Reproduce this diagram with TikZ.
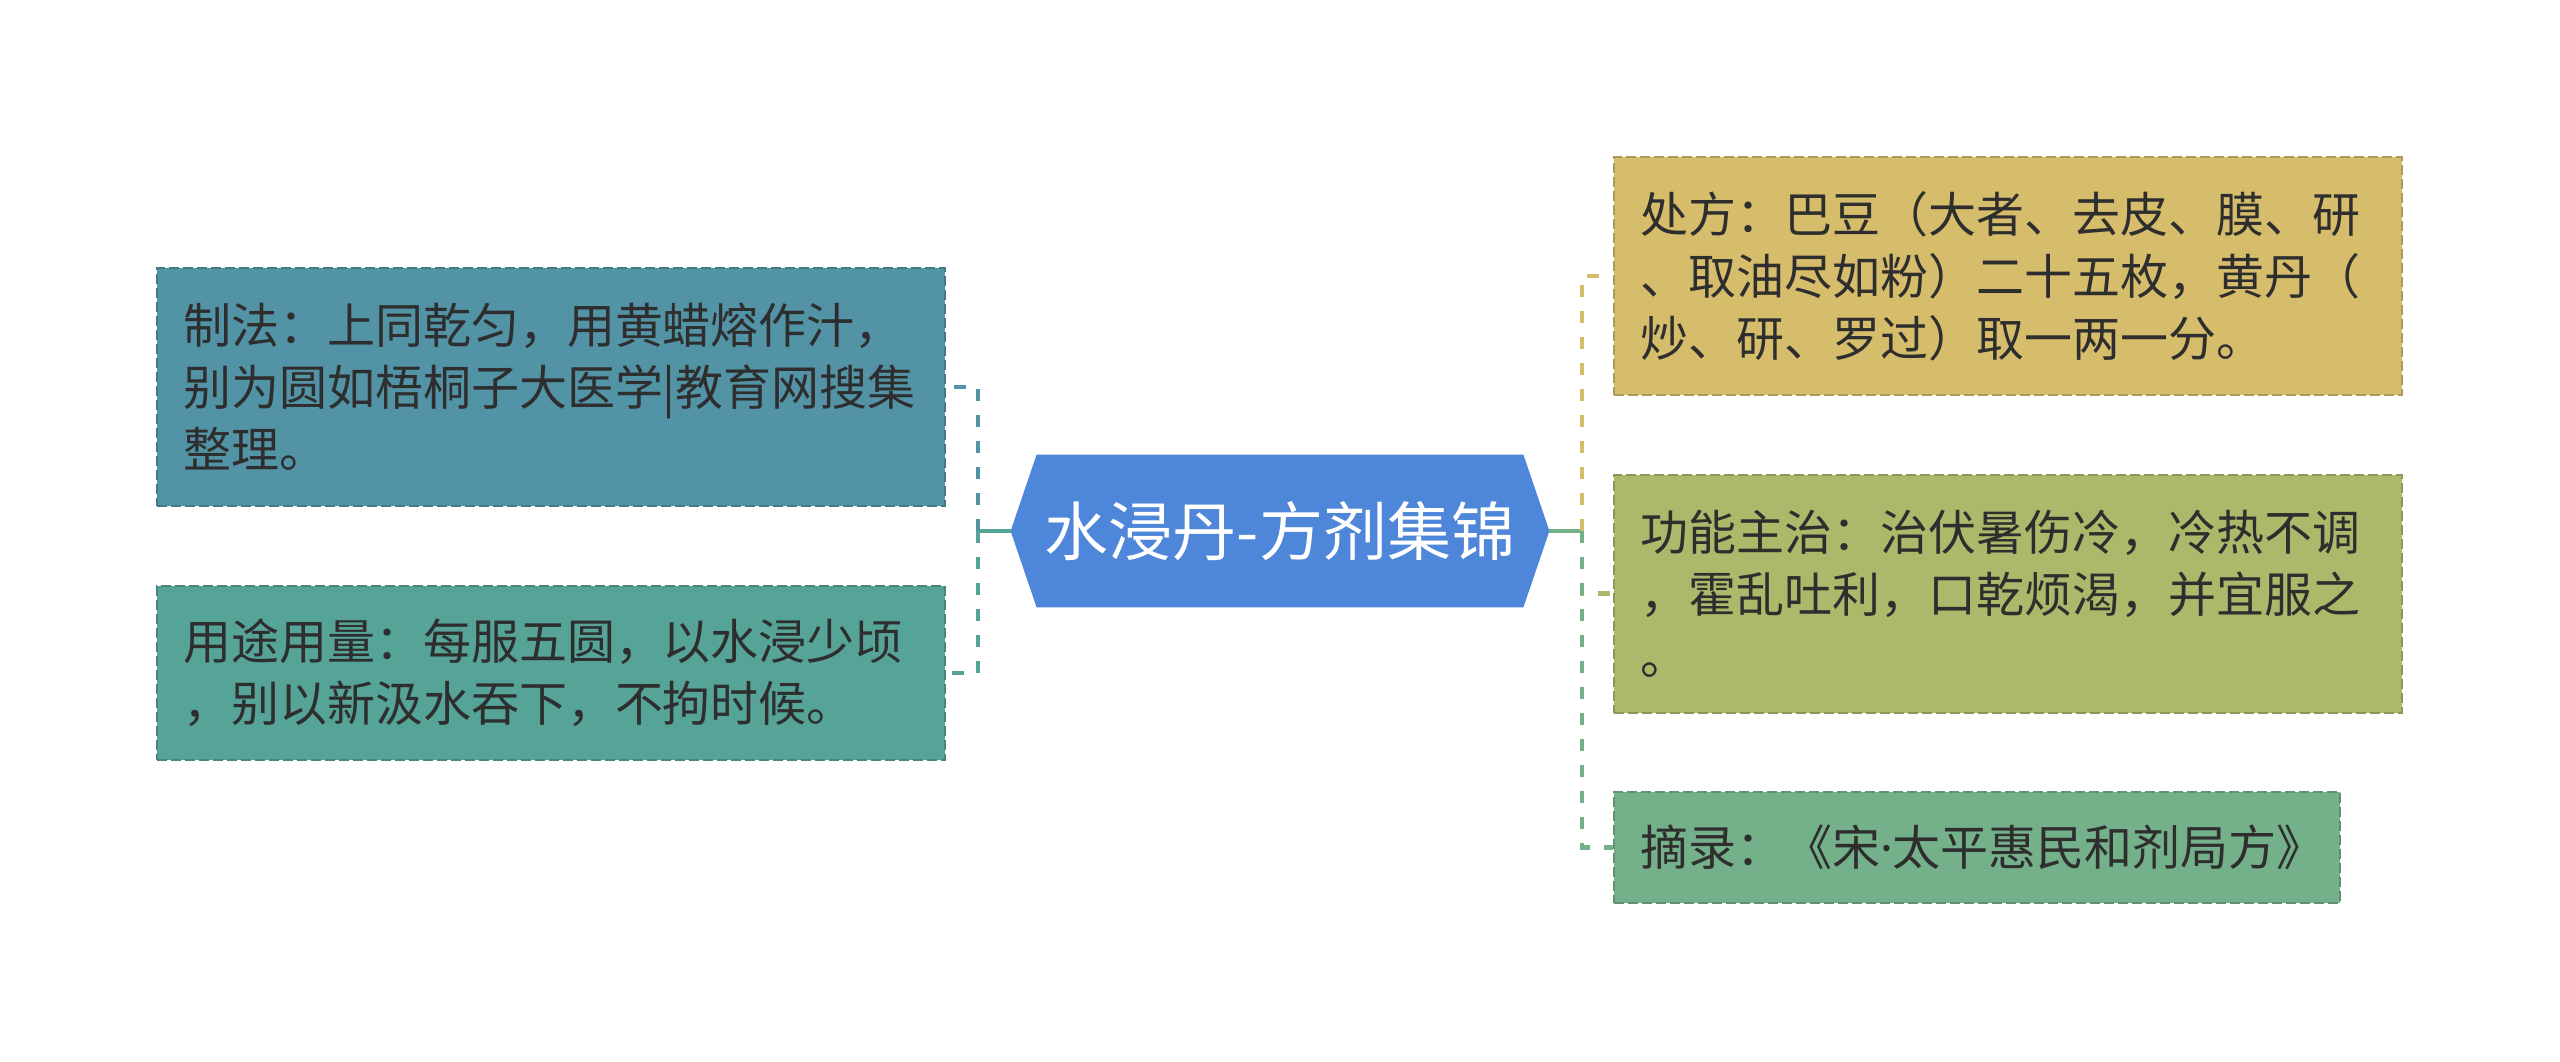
\documentclass[tikz,border=0pt]{standalone}
\usepackage{fontspec}
\setmainfont{Noto Sans CJK SC}
\newfontfamily\latinfont{Noto Sans}
\usetikzlibrary{calc}
\pgfdeclarelayer{bg}
\pgfsetlayers{bg,main}
\definecolor{hexblue}{HTML}{4E86D9}
\definecolor{cla}{HTML}{5393A6}
\definecolor{clb}{HTML}{56A398}
\definecolor{cra}{HTML}{D6BD6B}
\definecolor{crb}{HTML}{AEB86B}
\definecolor{crc}{HTML}{74B08A}
\definecolor{txt}{HTML}{2E2E2E}
\tikzset{
  leaf/.style={draw=#1!82!black, fill=#1, line width=1pt, dash pattern=on 5pt off 2pt,
    text=txt, align=left, inner xsep=13pt, inner ysep=0pt,
    font=\fontsize{24pt}{31pt}\selectfont, anchor=center},
  trunk/.style={line width=2.2pt},
  branchline/.style={line width=2.2pt, dash pattern=on 6pt off 7pt},
}
\begin{document}
\begin{tikzpicture}[x=0.5pt,y=-0.5pt]
\useasboundingbox (0,0) rectangle (2560,1061);
% central node
\node[inner sep=0pt, minimum width=243pt, minimum height=76pt, text=white,
  font=\fontsize{32pt}{38pt}\selectfont] (root) at (1280,531) {水浸丹-方剂集锦};
\coordinate (rootW) at ($(root.west)+(-26,0)$);
\coordinate (rootE) at ($(root.east)+(26,0)$);
\begin{pgfonlayer}{bg}
\fill[hexblue] (root.north west) -- (root.north east) -- (rootE) -- (root.south east)
  -- (root.south west) -- (rootW) -- cycle;
\end{pgfonlayer}
% left boxes
\node[leaf=cla, text width=368pt, minimum height=119pt] (l1) at (551,387)
  {制法：上同乾匀，用黄蜡熔作汁，\\别为圆如梧桐子大医学|教育网搜集\\整理。};
\node[leaf=clb, text width=368pt, minimum height=87pt] (l2) at (551,673)
  {用途用量：每服五圆，以水浸少顷\\，别以新汲水吞下，不拘时候。};
% right boxes
\node[leaf=cra, text width=368pt, minimum height=119pt] (r1) at (2008,276)
  {处方：巴豆（大者、去皮、膜、研\\、取油尽如粉）二十五枚，黄丹（\\炒、研、罗过）取一两一分。};
\node[leaf=crb, text width=368pt, minimum height=119pt] (r2) at (2008,593.5)
  {功能主治：治伏暑伤冷，冷热不调\\，霍乱吐利，口乾烦渴，并宜服之\\。};
\node[leaf=crc, text width=337pt, minimum height=55.5pt] (r3) at (1977,847.5)
  {摘录：《宋{\latinfont ·}太平惠民和剂局方》};
% connectors
\coordinate (lj) at (978,531);
\coordinate (rj) at (1582,531);
\draw[trunk, clb] (rootW) -- (lj);
\draw[branchline, cla] (lj) |- (l1.east);
\draw[branchline, clb] (lj) |- (l2.east);
\draw[trunk, crc] (rootE) -- (rj);
\draw[branchline, cra] (rj) |- (r1.west);
\draw[branchline, crb] (rj) |- (r2.west);
\draw[branchline, crc] (rj) |- (r3.west);
\end{tikzpicture}
\end{document}
